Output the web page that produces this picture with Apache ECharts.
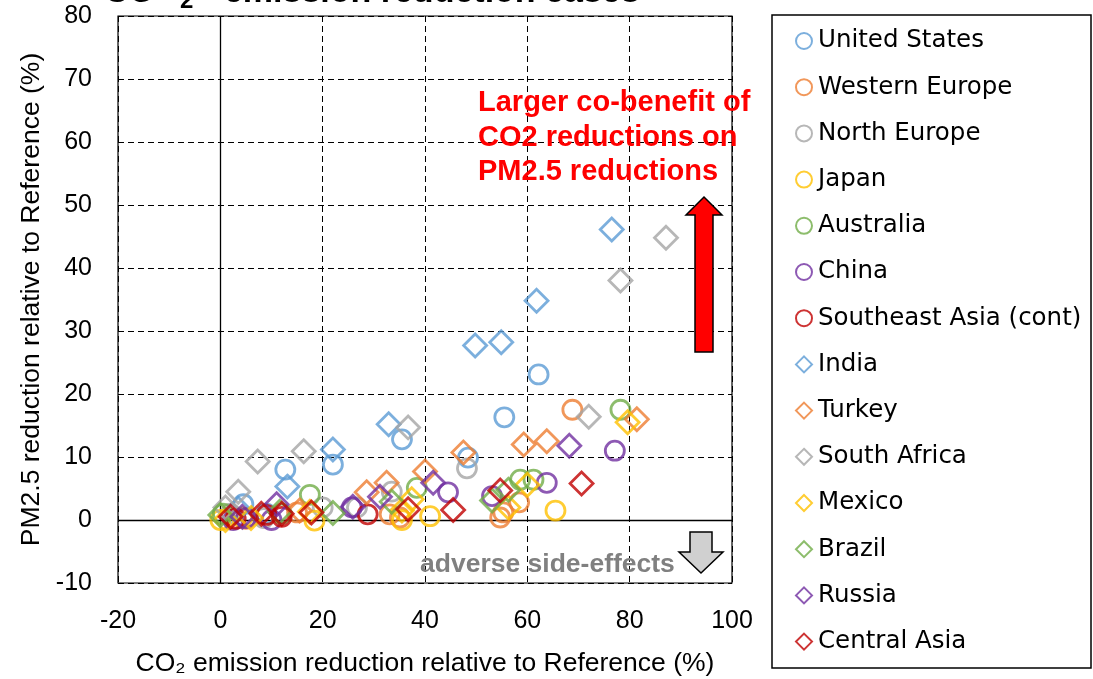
<!DOCTYPE html>
<html><head><meta charset="utf-8">
<script src="https://cdn.jsdelivr.net/npm/echarts@6/dist/echarts.min.js"></script>
<style>html,body{margin:0;padding:0;background:#fff}#c{width:1093px;height:679px}</style>
</head><body><div id="c"></div>
<script>
// ---- data ----
const seriesNames = ['United States','Western Europe','North Europe','Japan','Australia','China','Southeast Asia (cont)','India','Turkey','South Africa','Mexico','Brazil','Russia','Central Asia'];
const seriesColors = ['#5B9BD5','#ED7D31','#A5A5A5','#FFC000','#70AD47','#7030A0','#C00000','#5B9BD5','#ED7D31','#A5A5A5','#FFC000','#70AD47','#7030A0','#C00000'];
const seriesSymbols = ['circle','circle','circle','circle','circle','circle','circle','diamond','diamond','diamond','diamond','diamond','diamond','diamond'];

const unitedStates = [[62.2,23.1],[55.5,16.3],[48.4,9.9],[35.5,12.8],[22.0,8.8],[12.7,8.0],[4.5,2.5],[9.0,1.0]];
const westernEurope = [[68.8,17.5],[58.4,2.8],[55.3,1.2],[54.7,0.4],[35.1,0.4],[33.1,0.9],[15.0,1.2],[5.0,0.2]];
const northEurope = [[48.2,8.2],[33.5,4.5],[26.7,2.0],[20.0,2.0],[8.5,0.3],[2.0,1.0]];
const japan = [[65.5,1.5],[41.0,0.6],[35.5,0.0],[18.4,-0.1],[4.3,0.4],[0.0,0.0]];
const australia = [[100.2,28.3],[78.2,17.5],[61.2,6.4],[58.6,6.4],[38.4,5.1],[17.5,4.0],[12.0,1.0],[0.5,1.0]];
const china = [[77.1,11.0],[63.8,5.9],[53.1,3.8],[44.5,4.4],[25.7,2.0],[10.0,0.0],[5.0,0.3],[2.5,0.0]];
const southeastAsia = [[28.8,0.9],[12.0,0.5],[9.0,0.8],[3.0,0.2]];
const india = [[76.5,46.1],[61.8,34.8],[54.9,28.2],[49.8,27.7],[32.9,15.2],[22.0,11.2],[13.1,5.3],[3.5,1.8]];
const turkey = [[81.4,16.0],[63.8,12.5],[59.3,12.0],[47.5,10.7],[40.0,7.7],[32.5,5.9],[28.6,4.4],[15.5,1.5]];
const southAfrica = [[87.1,44.8],[78.2,38.0],[72.0,16.4],[36.7,14.7],[16.3,10.9],[7.3,9.3],[3.5,4.5],[1.0,2.0]];
const mexico = [[79.6,15.5],[60.0,5.6],[56.3,2.0],[37.4,3.3],[35.5,1.5],[17.5,1.3],[6.0,0.3],[1.0,0.0]];
const brazil = [[100.2,13.1],[56.3,4.8],[53.1,3.1],[33.5,2.9],[22.0,1.1],[11.6,1.3],[0.0,0.8]];
const russia = [[68.2,11.8],[41.6,5.9],[31.2,3.7],[25.9,2.1],[11.0,2.5],[4.3,0.5]];
const centralAsia = [[70.6,5.8],[54.7,4.7],[45.5,1.6],[36.7,1.7],[17.8,1.2],[12.0,1.0],[8.0,1.0],[2.0,0.5]];
const seriesData = [unitedStates,westernEurope,northEurope,japan,australia,china,southeastAsia,india,turkey,southAfrica,mexico,brazil,russia,centralAsia];

const xMin = -20, xMax = 100, xInterval = 20;
const yMin = -10, yMax = 80, yInterval = 10;
const xTitle = 'CO₂ emission reduction relative to Reference (%)';
const yTitle = 'PM2.5 reduction relative to Reference (%)';
const annotationLines = ['Larger co-benefit of','CO2 reductions on','PM2.5 reductions'];
const adverseText = 'adverse side-effects';

// ---- chart ----
const chart = echarts.init(document.getElementById('c'), null, {renderer:'canvas'});
const tickFont = {fontFamily:'Liberation Sans, Arial, sans-serif', fontSize:25, color:'#000'};
const titleFont = {fontFamily:'Liberation Sans, Arial, sans-serif', fontSize:26.5, color:'#000'};

const series = seriesNames.map((n,i)=>({
  name:n, type:'scatter', data:seriesData[i], symbol:seriesSymbols[i],
  symbolSize: seriesSymbols[i]==='circle'?19:23,
  itemStyle:{color:'rgba(0,0,0,0)', borderColor:seriesColors[i], borderWidth:2.8},
  emphasis:{disabled:true}, silent:true, z:3
}));
series[0].markLine = {
  silent:true, symbol:'none', animation:false, z:1,
  lineStyle:{color:'#000', type:'solid', width:1.3},
  label:{show:false},
  data:[{xAxis:0},{yAxis:0}]
};

const option = {
  animation:false,
  backgroundColor:'#fff',
  grid:{left:118, right:361, top:16, bottom:96, show:true, borderColor:'#000', borderWidth:1.2, backgroundColor:'transparent', containLabel:false, outerBoundsMode:'none'},
  xAxis:{type:'value', min:xMin, max:xMax, interval:xInterval,
    axisLine:{show:false, onZero:false}, axisTick:{show:false},
    axisLabel:Object.assign({margin:26}, tickFont),
    splitLine:{show:true, lineStyle:{color:'#000', type:[6,4], width:1}},
    name:xTitle, nameLocation:'middle', nameGap:67, nameTextStyle:titleFont},
  yAxis:{type:'value', min:yMin, max:yMax, interval:yInterval,
    axisLine:{show:false, onZero:false}, axisTick:{show:false},
    axisLabel:Object.assign({margin:26}, tickFont),
    splitLine:{show:true, lineStyle:{color:'#000', type:[6,4], width:1}},
    name:yTitle, nameLocation:'middle', nameGap:67, nameRotate:90, nameTextStyle:titleFont},
  legend:{
    orient:'vertical', left:790, top:22, itemWidth:16, itemHeight:16, itemGap:18.2,
    selectedMode:false,
    textStyle:{fontFamily:'DejaVu Sans, Verdana, sans-serif', fontSize:24.5, color:'#000', lineHeight:28, padding:[0,0,0,1]},
    data:seriesNames.map((n,i)=>({name:n, icon:seriesSymbols[i],
      itemStyle:{color:'rgba(0,0,0,0)', borderColor:seriesColors[i], borderWidth:2}}))
  },
  graphic:[
    {type:'rect', shape:{x:772, y:15, width:319, height:653}, style:{fill:'none', stroke:'#000', lineWidth:1.5}, silent:true},
    // partially visible title at very top
    {type:'text', x:104, y:9.5, style:{text:'CO', font:'bold 34px Liberation Sans, Arial', fill:'#000', verticalAlign:'bottom'}, silent:true},
    {type:'text', x:180, y:13, style:{text:'2', font:'bold 24px Liberation Sans, Arial', fill:'#000', verticalAlign:'bottom'}, silent:true},
    {type:'text', x:205, y:9.5, style:{text:'  emission reduction cases', font:'bold 34px Liberation Sans, Arial', fill:'#000', verticalAlign:'bottom'}, silent:true},
    // red annotation
    {type:'text', x:478, y:86, style:{text:annotationLines.join('\n'), font:'bold 29px Liberation Sans, Arial', fill:'#FF0000', lineHeight:34.5}, silent:true, z:10},
    {type:'polygon', shape:{points:[[704,197],[722,215],[713,215],[713,352],[695,352],[695,215],[686,215]]},
      style:{fill:'#FF0000', stroke:'#000', lineWidth:1.5}, silent:true, z:10},
    // grey adverse
    {type:'text', x:420, y:551, style:{text:adverseText, font:'bold 26.5px Liberation Sans, Arial', fill:'#808080'}, silent:true, z:10},
    {type:'polygon', shape:{points:[[690,532],[712,532],[712,552],[723,552],[701,573],[679,552],[690,552]]},
      style:{fill:'#D0D0D0', stroke:'#000', lineWidth:1.5}, silent:true, z:10}
  ],
  series:series
};
chart.setOption(option);
</script></body></html>
